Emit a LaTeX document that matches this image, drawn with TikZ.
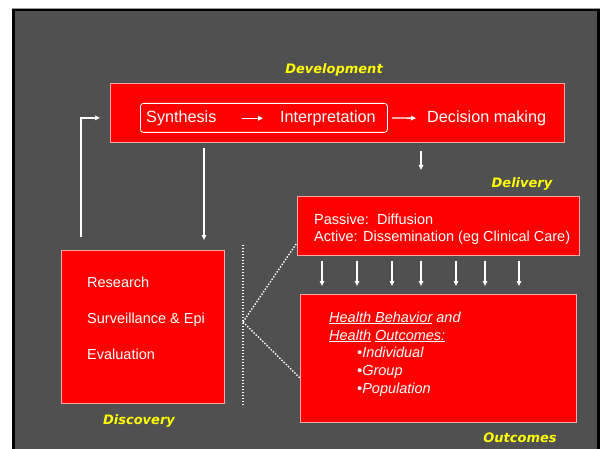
\documentclass[tikz,border=0pt]{standalone}
\usepackage{fontspec}
\setmainfont{Liberation Sans}
\newfontfamily\lblfont{DejaVu Sans}
\usetikzlibrary{arrows.meta}
\definecolor{slidegray}{RGB}{80,80,80}
\definecolor{boxred}{RGB}{255,0,0}
\definecolor{boxedge}{RGB}{255,165,165}
\definecolor{lblyellow}{RGB}{255,255,0}
\tikzset{
  box/.style={draw=boxedge, line width=0.8pt, fill=boxred, anchor=north west, inner sep=0pt},
  txt/.style={text=white, inner sep=0pt, anchor=base west, font=\fontsize{14.5}{18}\selectfont},
  bigtxt/.style={txt, font=\fontsize{16.2}{19}\selectfont},
  itxt/.style={txt, font=\fontsize{14.5}{18}\selectfont\itshape},
  lbl/.style={text=lblyellow, inner sep=0pt, font=\lblfont\bfseries\itshape\fontsize{13}{15}\selectfont},
  arr/.style={draw=white, line width=1.3pt, -{Triangle[length=5pt,width=4.5pt]}},
  dots/.style={draw=white, line width=1.4pt, dash pattern=on 1.4pt off 1.6pt}
}
\begin{document}
\begin{tikzpicture}[x=1pt,y=-1pt]
\useasboundingbox (0,0) rectangle (602,449);
% slide
\fill[white] (0,0) rectangle (602,449);
\fill[black!40] (12,8) rectangle (600,9);
\fill[black] (12,9) rectangle (600,449);
\fill[slidegray] (15,11.5) rectangle (597,449);

% boxes
\node[box, minimum width=454pt, minimum height=59pt] (dev) at (110,83) {};
\node[draw=white, line width=0.8pt, rounded corners=3pt, anchor=north west, inner sep=0pt,
      minimum width=247pt, minimum height=29pt] (si) at (140,103) {};
\node[box, minimum width=163pt, minimum height=153pt] (disc) at (61,250) {};
\node[box, minimum width=282pt, minimum height=59pt] (deliv) at (297,196) {};
\node[box, minimum width=276pt, minimum height=128pt] (outc) at (300,294) {};

% development
\node[bigtxt] (synth) at (146,122.5) {Synthesis};
\node[bigtxt] (interp) at (280,122.5) {Interpretation};
\node[bigtxt] (decis) at (427,122.5) {Decision making};
\draw[arr, shorten <=25pt, shorten >=17pt] (synth.east) -- (interp.west);
\draw[arr, shorten <=4pt, shorten >=11pt] (si.east) -- (decis.west);

% discovery
\node[txt] (res) at (87,287) {Research};
\node[txt] (surv) at (87,323) {Surveillance \& Epi};
\node[txt] (eval) at (87,359) {Evaluation};

% delivery
\node[txt] (pass) at (314,224) {Passive:\ \ Diffusion};
\node[txt] (act) at (314,241.5) {Active: Dissemination (eg Clinical Care)};

% outcomes
\node[itxt] (hb) at (329,322) {\underline{Health Behavior} and};
\node[itxt] (ho) at (329,340) {\underline{Health} \underline{Outcomes:}};
\node[itxt] (ind) at (357,357.5) {\textbullet Individual};
\node[itxt] (grp) at (357,375) {\textbullet Group};
\node[itxt] (pop) at (357,393) {\textbullet Population};

% connectors
\draw[arr] ([xshift=20pt,yshift=13pt]disc.north west) |- ([xshift=-10pt]dev.west |- si.center);
\draw[arr, shorten <=5pt, shorten >=10pt] ([xshift=94pt]dev.south west) -- ([xshift=143pt]disc.north west);
\draw[arr, shorten <=8pt, shorten >=26pt] ([xshift=311pt]dev.south west) -- ([xshift=124pt]deliv.north west);
\foreach \dx in {25,60,95,124,159,188,222}
  \draw[arr, shorten <=5pt, shorten >=8pt] ([xshift=\dx pt]deliv.south west) -- ([xshift=\dx pt]deliv.south west |- outc.north);

% dotted links
\coordinate (hub) at (243,322);
\draw[dots] (243,245) -- (243,407);
\draw[dots] (hub) -- ([yshift=13pt]deliv.south west);
\draw[dots] (hub) -- ([yshift=-84pt]outc.north west);

% labels
\node[lbl] (devlbl) at (334,70) {Development};
\node[lbl] (delivlbl) at (522,184) {Delivery};
\node[lbl] (disclbl) at (139,421) {Discovery};
\node[lbl] (outclbl) at (520,438) {Outcomes};
\end{tikzpicture}
\end{document}
